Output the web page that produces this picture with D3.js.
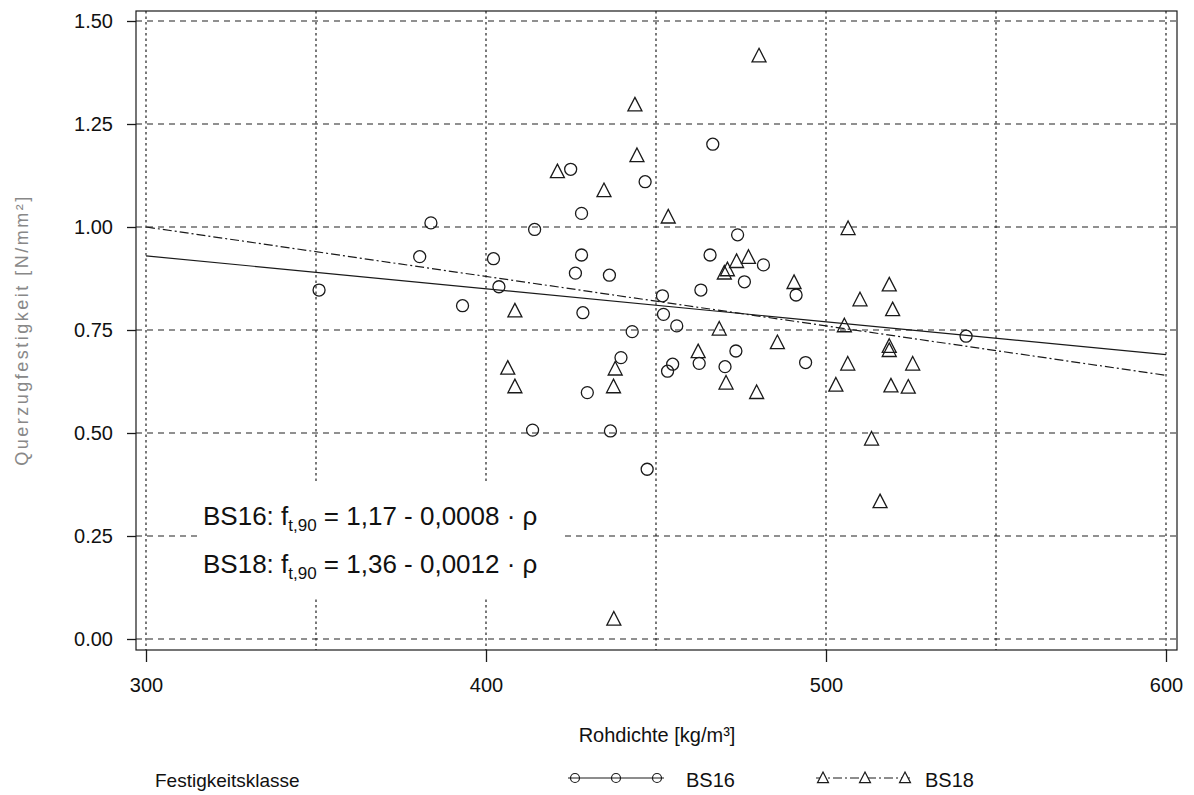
<!DOCTYPE html>
<html><head><meta charset="utf-8">
<script src="https://cdn.jsdelivr.net/npm/d3@7"></script>
<style>
body{margin:0;background:#fff;}
text{font-family:"Liberation Sans", Arial, Helvetica, sans-serif;fill:#111;}
</style>
</head><body>
<svg id="c" width="1194" height="795"></svg>
<script>
// ---- data ----
const bs16Density  = [350.9,380.5,383.8,393.1,402.2,403.8,413.7,414.3,424.9,426.3,428.1,428.1,428.5,429.8,436.3,436.6,439.7,443.0,446.8,447.4,451.9,452.2,453.4,454.9,456.1,462.7,463.2,465.9,466.7,470.3,473.5,474.0,476.0,481.6,491.2,494.0,541.2];
const bs16Strength = [0.847,0.928,1.010,0.809,0.923,0.855,0.507,0.994,1.140,0.888,1.033,0.932,0.792,0.598,0.883,0.505,0.683,0.746,1.110,0.412,0.833,0.788,0.650,0.667,0.760,0.669,0.847,0.932,1.201,0.661,0.699,0.981,0.867,0.908,0.835,0.671,0.735];
const bs18Density  = [406.4,408.5,408.5,421.0,434.7,437.5,437.6,438.0,443.8,444.4,453.6,462.4,468.6,470.1,471.0,470.6,473.7,477.2,479.6,480.3,485.7,490.6,502.9,505.4,506.5,506.4,510.0,513.4,515.9,518.6,519.6,518.6,518.6,519.1,524.2,525.5];
const bs18Strength = [0.657,0.796,0.612,1.134,1.088,0.612,0.048,0.655,1.296,1.173,1.024,0.697,0.752,0.888,0.896,0.621,0.916,0.926,0.598,1.415,0.719,0.865,0.616,0.760,0.996,0.667,0.823,0.485,0.333,0.859,0.799,0.700,0.710,0.614,0.611,0.667];
const seriesNames = ["BS16","BS18"];
const regIntercepts = [1.17, 1.36];
const regSlopes = [-0.0008, -0.0012];
const xTicks = [300,400,500,600];
const xGrid = [300,350,400,450,500,550,600];
const yTicks = [0,0.25,0.5,0.75,1.0,1.25,1.5];
const yTickLabels = ["0.00","0.25","0.50","0.75","1.00","1.25","1.50"];
const xTitle = "Rohdichte [kg/m³]";
const yTitle = "Querzugfestigkeit [N/mm²]";
const legendTitle = "Festigkeitsklasse";

// ---- layout ----
const svg = d3.select("#c");
const x = d3.scaleLinear().domain([300,600]).range([146,1166]);
const y = d3.scaleLinear().domain([0,1.5]).range([639,21]);
const frame = {l:136, t:11, r:1177, b:650};
const ink = "#1a1a1a";

// gridlines
svg.append("g").selectAll("line").data(yTicks).join("line")
  .attr("x1", frame.l).attr("x2", frame.r)
  .attr("y1", d=>y(d)).attr("y2", d=>y(d))
  .attr("stroke", "#222").attr("stroke-width", 1.2).attr("stroke-dasharray","6,5");
svg.append("g").selectAll("line").data(xGrid).join("line")
  .attr("x1", d=>x(d)).attr("x2", d=>x(d))
  .attr("y1", frame.t).attr("y2", frame.b)
  .attr("stroke", "#222").attr("stroke-width", 1.2).attr("stroke-dasharray","2.5,3");

// frame
svg.append("rect").attr("x",frame.l).attr("y",frame.t)
  .attr("width",frame.r-frame.l).attr("height",frame.b-frame.t)
  .attr("fill","none").attr("stroke",ink).attr("stroke-width",1.2);

// axes
const xAxis = svg.append("g").attr("transform",`translate(0,${frame.b})`)
  .call(d3.axisBottom(x).tickValues(xTicks).tickSize(12).tickPadding(16));
const yAxis = svg.append("g").attr("transform",`translate(${frame.l},0)`)
  .call(d3.axisLeft(y).tickValues(yTicks).tickFormat((d,i)=>yTickLabels[i]).tickSize(9).tickPadding(14));
[xAxis,yAxis].forEach(a=>{
  a.select(".domain").remove();
  a.selectAll("line").attr("stroke",ink).attr("stroke-width",1.3);
  a.selectAll("text").attr("font-size",20).attr("fill",ink)
    .style("font-family",'"Liberation Sans", Arial, sans-serif');
});

// white box behind equations
svg.append("rect").attr("x",198).attr("y",482).attr("width",367).attr("height",116).attr("fill","#fff");

// regression lines
const regDash = [null, "9,3,2,3"];
regIntercepts.forEach((b,i)=>{
  const m = regSlopes[i];
  svg.append("line")
    .attr("x1", x(300)).attr("y1", y(b + m*300))
    .attr("x2", x(600)).attr("y2", y(b + m*600))
    .attr("stroke", ink).attr("stroke-width", 1.2)
    .attr("stroke-dasharray", regDash[i]);
});

// markers
const triPath = (s)=>`M0,${-s*0.55}L${s*0.5},${s*0.42}L${-s*0.5},${s*0.42}Z`;
svg.append("g").selectAll("circle").data(bs16Density.map((d,i)=>[d,bs16Strength[i]])).join("circle")
  .attr("cx",d=>x(d[0])).attr("cy",d=>y(d[1])).attr("r",6)
  .attr("fill","none").attr("stroke",ink).attr("stroke-width",1.3);
svg.append("g").selectAll("path").data(bs18Density.map((d,i)=>[d,bs18Strength[i]])).join("path")
  .attr("transform",d=>`translate(${x(d[0])},${y(d[1])})`)
  .attr("d",triPath(14))
  .attr("fill","none").attr("stroke",ink).attr("stroke-width",1.3);

// equations
regIntercepts.forEach((b,i)=>{
  const t = svg.append("text").attr("x",203).attr("y",[525,573][i]).attr("font-size",26);
  t.append("tspan").text(seriesNames[i] + ": f");
  t.append("tspan").attr("font-size",17).attr("dy",6).text("t,90");
  t.append("tspan").attr("dy",-6).text(" = " + b.toFixed(2).replace(".",",") + " - " + Math.abs(regSlopes[i]).toFixed(4).replace(".",",") + " · ρ");
});

// titles
svg.append("text").attr("x",657).attr("y",742).attr("text-anchor","middle")
  .attr("font-size",20).text(xTitle);
svg.append("text").attr("transform","translate(28,330) rotate(-90)")
  .attr("text-anchor","middle").attr("font-size",18).attr("letter-spacing",2.5)
  .style("fill","#888").text(yTitle);

// legend
svg.append("text").attr("x",155).attr("y",787).attr("font-size",19).text(legendTitle);
const legY = 778;
const legXs = [[575,616,657],[823,865,905]];
const legTextX = [686, 925];
legXs.forEach((xs,i)=>{
  svg.append("line").attr("x1",xs[0]-7).attr("x2",xs[2]+7).attr("y1",legY).attr("y2",legY)
    .attr("stroke",ink).attr("stroke-width",1).attr("stroke-dasharray",regDash[i]);
  xs.forEach(px=>{
    if(i===0){
      svg.append("circle").attr("cx",px).attr("cy",legY).attr("r",4.5)
        .attr("fill","none").attr("stroke",ink).attr("stroke-width",1.2);
    } else {
      svg.append("path").attr("transform",`translate(${px},${legY})`).attr("d",triPath(11))
        .attr("fill","#fff").attr("stroke",ink).attr("stroke-width",1.2);
    }
  });
  svg.append("text").attr("x",legTextX[i]).attr("y",787).attr("font-size",20).text(seriesNames[i]);
});
</script>
</body></html>
